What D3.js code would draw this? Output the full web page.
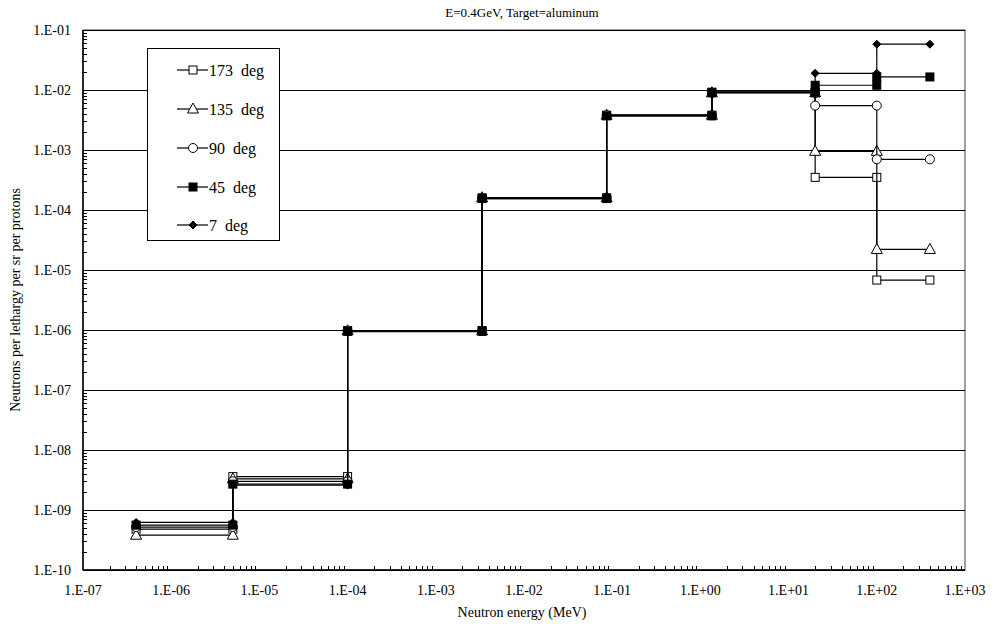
<!DOCTYPE html>
<html>
<head>
<meta charset="utf-8">
<script src="https://cdn.jsdelivr.net/npm/d3@7"></script>
<style>
  body { margin: 0; background: #fff; }
</style>
</head>
<body>
<svg id="chart" width="994" height="627" font-family="'Liberation Serif', 'DejaVu Serif', serif"></svg>
<script>
// bin edges in MeV (each bin drawn as a flat step between two edges)
var edges = [4e-7, 5e-6, 1e-4, 3.35e-3, 8.65e-2, 1.35, 20, 100, 400];

var names = ["173  deg", "135  deg", "90  deg", "45  deg", "7  deg"];
var s173 = [4.8e-10, 3.6e-9, 9.8e-7, 1.6e-4, 3.8e-3, 9.2e-3, 3.5e-4, 6.8e-6];
var s135 = [3.8e-10, 3.3e-9, 9.7e-7, 1.6e-4, 3.8e-3, 9.0e-3, 9.5e-4, 2.2e-5];
var s90  = [5.2e-10, 3.0e-9, 9.6e-7, 1.6e-4, 3.8e-3, 9.0e-3, 5.5e-3, 7.0e-4];
var s45  = [5.6e-10, 2.7e-9, 9.5e-7, 1.55e-4, 3.7e-3, 9.0e-3, 1.2e-2, 1.65e-2];
var s7   = [6.2e-10, 2.6e-9, 9.4e-7, 1.55e-4, 3.7e-3, 9.3e-3, 1.9e-2, 5.8e-2];
var markers = ["square", "triangle", "circle", "fsquare", "diamond"];

var xTicks = ["1.E-07","1.E-06","1.E-05","1.E-04","1.E-03","1.E-02","1.E-01","1.E+00","1.E+01","1.E+02","1.E+03"];
var yTicks = ["1.E-10","1.E-09","1.E-08","1.E-07","1.E-06","1.E-05","1.E-04","1.E-03","1.E-02","1.E-01"];

var allSeries = [s173, s135, s90, s45, s7];

(function(){
  var svg = d3.select("#chart");
  var L = 83, R = 965, T = 30, B = 570;

  var x = d3.scaleLog().domain([1e-7, 1e3]).range([L, R]);
  var y = d3.scaleLog().domain([1e-10, 1e-1]).range([B, T]);

  // plot area frame
  svg.append("rect").attr("x", L).attr("y", T).attr("width", R - L).attr("height", B - T)
    .attr("fill", "none").attr("stroke", "#808080").attr("stroke-width", 1.5);

  // horizontal gridlines at decades
  yTicks.forEach(function(t){
    var v = +t.replace("1.E", "1e");
    svg.append("line").attr("x1", L).attr("x2", R)
      .attr("y1", Math.round(y(v)) + 0.5).attr("y2", Math.round(y(v)) + 0.5)
      .attr("stroke", "#000").attr("stroke-width", 1);
  });

  // minor ticks
  var minorY = [], minorX = [];
  for (var e = -10; e < -1; e++) for (var m = 2; m < 10; m++) minorY.push(m * Math.pow(10, e));
  for (var e2 = -7; e2 < 3; e2++) for (var m2 = 2; m2 < 10; m2++) minorX.push(m2 * Math.pow(10, e2));
  minorY.forEach(function(v){
    svg.append("line").attr("x1", L).attr("x2", L + 4)
      .attr("y1", Math.round(y(v)) + 0.5).attr("y2", Math.round(y(v)) + 0.5)
      .attr("stroke", "#000").attr("stroke-width", 1);
  });
  minorX.forEach(function(v){
    svg.append("line").attr("y1", B).attr("y2", B - 4)
      .attr("x1", Math.round(x(v)) + 0.5).attr("x2", Math.round(x(v)) + 0.5)
      .attr("stroke", "#000").attr("stroke-width", 1);
  });

  // axes lines
  svg.append("line").attr("x1", L).attr("x2", L).attr("y1", T).attr("y2", B).attr("stroke", "#000").attr("stroke-width", 1.5);
  svg.append("line").attr("x1", L).attr("x2", R).attr("y1", B).attr("y2", B).attr("stroke", "#000").attr("stroke-width", 1.5);

  // tick labels
  yTicks.forEach(function(t){
    var v = +t.replace("1.E", "1e");
    svg.append("text").attr("x", 71).attr("y", y(v) + 5)
      .attr("text-anchor", "end").attr("font-size", 14).text(t);
  });
  xTicks.forEach(function(t){
    var v = +t.replace("1.E", "1e");
    svg.append("text").attr("x", x(v)).attr("y", 595)
      .attr("text-anchor", "middle").attr("font-size", 14).text(t);
  });

  // titles
  svg.append("text").attr("x", 522).attr("y", 17).attr("text-anchor", "middle")
    .attr("font-size", 13).text("E=0.4GeV, Target=aluminum");
  svg.append("text").attr("x", 522).attr("y", 617).attr("text-anchor", "middle")
    .attr("font-size", 14).text("Neutron energy (MeV)");
  svg.append("text").attr("transform", "translate(20,300) rotate(-90)").attr("text-anchor", "middle")
    .attr("font-size", 14).text("Neutrons per lethargy per sr per protons");

  function drawMarker(g, kind, cx, cy) {
    if (kind === "square") {
      g.append("rect").attr("x", cx - 4).attr("y", cy - 4).attr("width", 8).attr("height", 8)
        .attr("fill", "#fff").attr("stroke", "#000").attr("stroke-width", 1);
    } else if (kind === "fsquare") {
      g.append("rect").attr("x", cx - 4).attr("y", cy - 4).attr("width", 8).attr("height", 8)
        .attr("fill", "#000").attr("stroke", "#000").attr("stroke-width", 1);
    } else if (kind === "circle") {
      g.append("circle").attr("cx", cx).attr("cy", cy).attr("r", 4.5)
        .attr("fill", "#fff").attr("stroke", "#000").attr("stroke-width", 1);
    } else if (kind === "triangle") {
      g.append("path").attr("d", "M" + cx + "," + (cy - 6) + "L" + (cx + 5.5) + "," + (cy + 4) + "L" + (cx - 5.5) + "," + (cy + 4) + "Z")
        .attr("fill", "#fff").attr("stroke", "#000").attr("stroke-width", 1);
    } else if (kind === "diamond") {
      g.append("path").attr("d", "M" + cx + "," + (cy - 4) + "L" + (cx + 4) + "," + cy + "L" + cx + "," + (cy + 4) + "L" + (cx - 4) + "," + cy + "Z")
        .attr("fill", "#000").attr("stroke", "#000").attr("stroke-width", 1);
    }
  }

  var line = d3.line().x(function(d){ return x(d[0]); }).y(function(d){ return y(d[1]); });

  allSeries.forEach(function(vals, si){
    var pts = [];
    vals.forEach(function(v, i){
      pts.push([edges[i], v]);
      pts.push([edges[i + 1], v]);
    });
    var g = svg.append("g");
    g.append("path").datum(pts).attr("d", line)
      .attr("fill", "none").attr("stroke", "#000").attr("stroke-width", 1.2);
    pts.forEach(function(p){ drawMarker(g, markers[si], x(p[0]), y(p[1])); });
  });

  // legend
  var lg = svg.append("g");
  lg.append("rect").attr("x", 147.5).attr("y", 48.5).attr("width", 132).attr("height", 192)
    .attr("fill", "#fff").attr("stroke", "#000").attr("stroke-width", 1);
  var legY = [70, 109, 148, 187, 225];
  names.forEach(function(n, i){
    lg.append("line").attr("x1", 177).attr("x2", 208).attr("y1", legY[i]).attr("y2", legY[i])
      .attr("stroke", "#000").attr("stroke-width", 1.2);
    drawMarker(lg, markers[i], 193, legY[i]);
    lg.append("text").attr("x", 209).attr("y", legY[i] + 5.5).attr("font-size", 16)
      .attr("xml:space", "preserve").style("white-space", "pre").text(n);
  });
})();
</script>
</body>
</html>
